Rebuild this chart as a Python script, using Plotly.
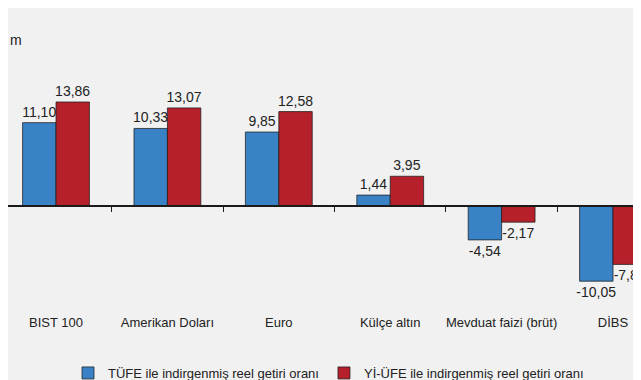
import plotly.graph_objects as go

categories = ["BIST 100", "Amerikan Doları", "Euro", "Külçe altın", "Mevduat faizi (brüt)", "DİBS"]
tufe_values = [11.10, 10.33, 9.85, 1.44, -4.54, -10.05]
yiufe_values = [13.86, 13.07, 12.58, 3.95, -2.17, -7.81]
series_names = ["TÜFE ile indirgenmiş reel getiri oranı", "Yİ-ÜFE ile indirgenmiş reel getiri oranı"]

def fmt(v):
    return f"{v:.2f}".replace(".", ",")

FONT = "Liberation Sans Narrow, Liberation Sans, Arial, sans-serif"
y_min, y_max = -24.3, 26.4
zero_pos = (0 - y_min) / (y_max - y_min)

fig = go.Figure()
for name, vals, color in [(series_names[0], tufe_values, "#3a82c6"),
                          (series_names[1], yiufe_values, "#b5202a")]:
    fig.add_trace(go.Bar(
        x=categories, y=vals, name=name,
        marker=dict(color=color, line=dict(color="rgba(30,30,30,0.75)", width=1)),
        text=[fmt(v) for v in vals], textposition="outside",
        textfont=dict(family=FONT, size=14, color="#222"),
        constraintext="none",
        cliponaxis=False,
    ))

fig.update_layout(
    width=641, height=380,
    margin=dict(l=0, r=0, t=0, b=0),
    paper_bgcolor="#f1f1f1", plot_bgcolor="#f1f1f1",
    barmode="group", bargap=0.40, bargroupgap=0,
    showlegend=True,
    legend=dict(orientation="h", x=0.5, xanchor="center", y=0.0, yanchor="bottom",
                font=dict(family=FONT, size=13, color="#222"), bgcolor="rgba(0,0,0,0)"),
    xaxis=dict(range=[-0.431, 5.323], anchor="free", position=zero_pos,
               showline=True, linecolor="#1a1a1a", linewidth=2,
               ticks="outside", tickson="boundaries", ticklen=5, tickcolor="#1a1a1a",
               ticklabelstandoff=105, tickangle=0,
               tickfont=dict(family=FONT, size=13, color="#222"),
               showgrid=False, zeroline=False),
    yaxis=dict(range=[y_min, y_max], visible=False, showgrid=False, zeroline=False),
    annotations=[dict(text="m", x=0.0, y=0.915, xref="paper", yref="paper",
                      xanchor="left", yanchor="middle", showarrow=False,
                      font=dict(family=FONT, size=14, color="#222"))],
)

fig.write_html("out.html")
